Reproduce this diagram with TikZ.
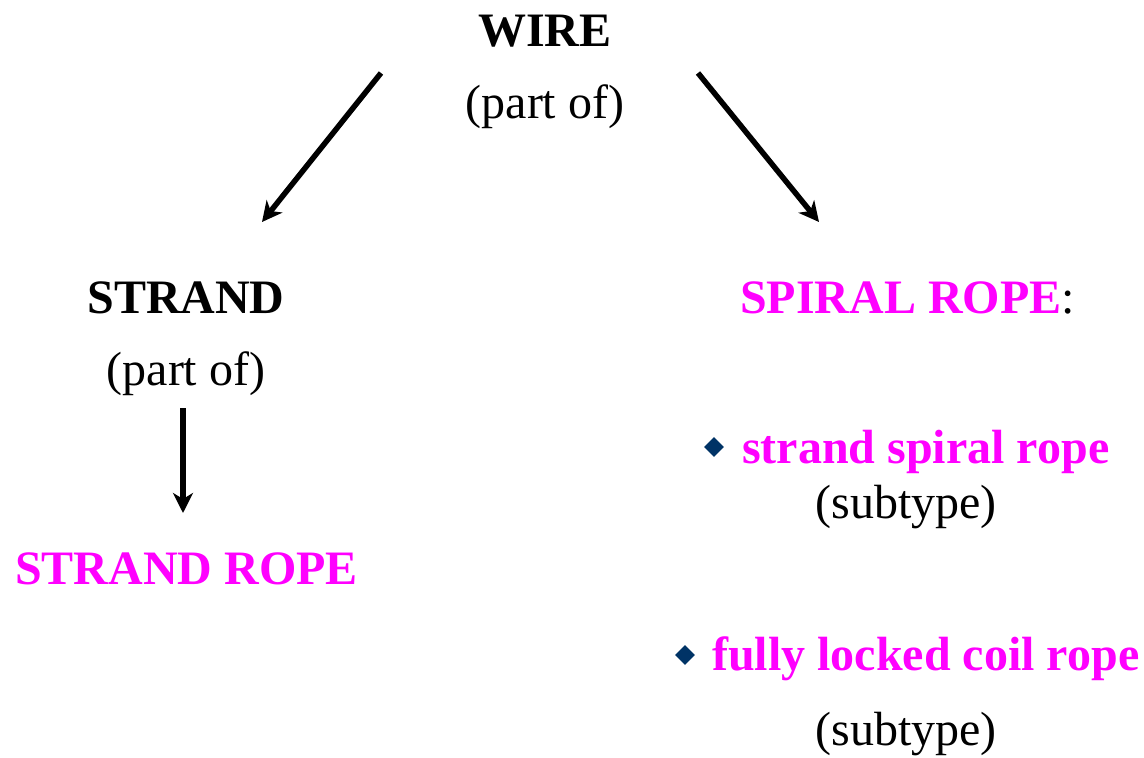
\documentclass[tikz,border=0pt]{standalone}
\usepackage{fontspec}
\setmainfont{Liberation Serif}
\usetikzlibrary{arrows.meta,shapes.geometric}
\definecolor{mag}{RGB}{255,0,255}
\definecolor{navy}{RGB}{0,51,102}
\tikzset{
  lbl/.style={inner sep=0pt, anchor=base, font=\fontsize{48}{56}\selectfont},
  bold/.style={lbl, font=\fontsize{48}{56}\selectfont\bfseries},
  conn/.style={line width=5.5pt, -{Stealth[length=20pt,width=20pt,inset=6pt]}},
  bul/.style={diamond, fill=navy, inner sep=0pt, minimum width=20pt, minimum height=20pt}
}
\begin{document}
\begin{tikzpicture}[x=1pt,y=-1pt]
\useasboundingbox (0,0) rectangle (1144,758);
\node[bold] (wire) at (545,46) {WIRE};
\node[lbl] (po1) at (545,118) {(part of)};
\node[bold] (strand) at (186,313) {STRAND};
\node[lbl] (po2) at (186,385) {(part of)};
\node[bold, anchor=base west, text=mag] (sr) at (15,584) {STRAND ROPE};
\node[bold, anchor=base west] (spiral) at (740,313) {\textcolor{mag}{SPIRAL ROPE}\mdseries:};
\node[bul] (b1) at (714,447) {};
\node[bold, anchor=base west, text=mag] (ssr) at (742,463) {strand spiral rope};
\node[lbl] (st1) at (906,518) {(subtype)};
\node[bul] (b2) at (685,655) {};
\node[bold, anchor=base west, text=mag] (flc) at (712,670) {fully locked coil rope};
\node[lbl] (st2) at (906,745) {(subtype)};
\coordinate (a1s) at (381,73); \coordinate (a1e) at (262,222);
\coordinate (a2s) at (698,73); \coordinate (a2e) at (819,222);
\coordinate (a3s) at (183,408); \coordinate (a3e) at (183,513);
\draw[conn] (a1s) -- (a1e);
\draw[conn] (a2s) -- (a2e);
\draw[conn] (a3s) -- (a3e);
\end{tikzpicture}
\end{document}
